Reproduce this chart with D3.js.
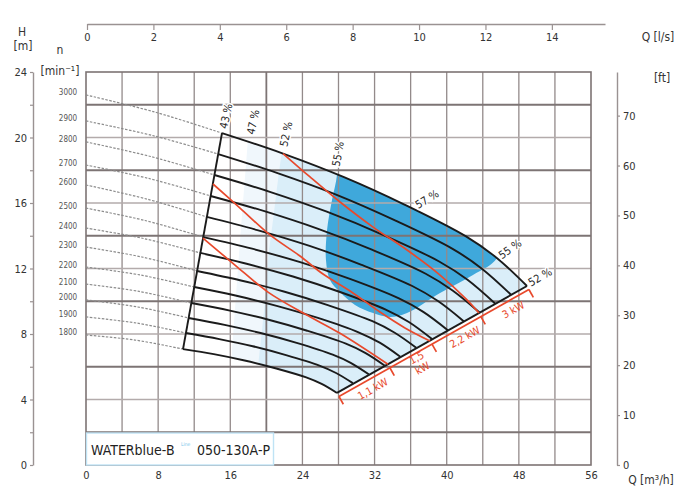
<!DOCTYPE html>
<html>
<head>
<meta charset="utf-8">
<script src="https://cdn.jsdelivr.net/npm/d3@7"></script>
<style>
  body { margin: 0; background: #fff; }
  svg text { font-family: "Liberation Sans Narrow", "DejaVu Sans Condensed", "Liberation Sans", sans-serif; fill: #333; }
</style>
</head>
<body>
<svg id="chart" width="683" height="488"></svg>
<script>
// speed curves [Q m3/h, H m]. points 0-2 are the dashed part
const speeds = [3000, 2900, 2800, 2700, 2600, 2500, 2400, 2300, 2200, 2100, 2000, 1900, 1800];
const n3000 = [[0,22.60],[7.6,21.56],[15.08,20.27],[21.85,19.02],[28.61,17.58],[35.37,15.89],[42.14,13.96],[45.52,12.66],[48.90,10.93]];
const n2900 = [[0,21.01],[7.39,20.12],[14.66,18.99],[21.16,17.84],[27.66,16.53],[34.15,14.97],[40.65,13.20],[43.90,11.99],[47.15,10.39]];
const n2800 = [[0,19.73],[7.17,18.84],[14.24,17.71],[20.47,16.67],[26.70,15.47],[32.92,14.06],[39.16,12.43],[42.27,11.33],[45.39,9.85]];
const n2700 = [[0,18.32],[6.96,17.50],[13.82,16.43],[19.78,15.50],[25.75,14.42],[31.70,13.15],[37.67,11.68],[40.65,10.66],[43.64,9.31]];
const n2600 = [[0,17.10],[6.75,16.24],[13.40,15.15],[19.10,14.33],[24.79,13.38],[30.48,12.24],[36.18,10.93],[39.03,10.01],[41.88,8.78]];
const n2500 = [[0,15.69],[6.55,14.93],[13.00,13.92],[18.42,13.21],[23.84,12.37],[29.27,11.36],[34.70,10.17],[37.40,9.35],[40.12,8.23]];
const n2400 = [[0,14.47],[6.40,13.83],[12.67,12.95],[17.81,12.29],[22.95,11.51],[28.09,10.58],[33.23,9.49],[35.80,8.73],[38.37,7.69]];
const n2300 = [[0,13.31],[6.22,12.70],[12.32,11.85],[17.18,11.27],[22.03,10.58],[26.90,9.75],[31.76,8.78],[34.19,8.09],[36.62,7.16]];
const n2200 = [[0,12.09],[6.05,11.60],[12.00,10.87],[16.57,10.35],[21.14,9.72],[25.72,8.98],[30.28,8.09],[32.57,7.47],[34.85,6.61]];
const n2100 = [[0,11.05],[5.90,10.60],[11.68,9.89],[15.96,9.43],[20.25,8.87],[24.53,8.20],[28.82,7.41],[30.96,6.85],[33.10,6.08]];
const n2000 = [[0,10.08],[5.74,9.65],[11.38,8.98],[15.37,8.56],[19.36,8.06],[23.36,7.46],[27.36,6.74],[29.35,6.24],[31.35,5.54]];
const n1900 = [[0,9.04],[5.60,8.67],[11.08,8.06],[14.78,7.69],[18.49,7.25],[22.18,6.71],[25.88,6.07],[27.73,5.62],[29.59,5.00]];
const n1800 = [[0,7.94],[5.43,7.63],[10.76,7.08],[14.17,6.77],[17.59,6.38],[21.00,5.91],[24.42,5.35],[26.13,4.95],[27.83,4.40]];
const speedCurves = [n3000, n2900, n2800, n2700, n2600, n2500, n2400, n2300, n2200, n2100, n2000, n1900, n1800];

// efficiency labels
const effLabels = ['43 %', '47 %', '52 %', '55 %', '57 %', '55 %', '52 %'];
const effQ = [15.52, 18.52, 22.18, 27.94, 37.81, 47.02, 50.34];
const effH = [21.31, 20.95, 20.21, 18.99, 16.24, 13.19, 11.48];

// shaded efficiency zones, clipped later to the working field
const zone47 = [[18.19,21.5],[17.08,13.74],[16.19,7.02],[15.97,3],[56,3],[56,23],[18.19,23]];
const zone52 = [[21.85,19.6],[21.29,17.40],[20.74,14.96],[20.18,12.52],[19.96,10.69],[19.52,8.24],[19.07,5.80],[19.0,3],[56,3],[56,23],[21.85,23]];
const zone55 = [[27.83,19.5],[27.83,17.71],[27.28,16.18],[26.73,14.35],[26.61,12.52],[27.06,11.30],[28.17,10.56],[29.83,9.77],[31.83,9.28],[33.71,9.04],[35.60,9.28],[39.26,10.50],[42.91,11.60],[45.58,12.64],[47,16],[30,20]];

// motor power lines
const p11 = [[12.97,13.86],[16.52,12.21],[20.18,10.56],[24.28,9.22],[28.17,8.04],[33.48,6.15]];
const p15 = [[14.08,17.16],[17.08,15.69],[20.40,14.05],[23.73,12.76],[26.28,11.66],[29.28,10.63],[32.60,9.34],[35.37,8.37],[38.15,7.57]];
const p22 = [[21.85,19.02],[24.84,17.59],[28.17,16.06],[31.83,14.53],[35.60,13.13],[39.26,11.60],[42.25,10.08],[43.57,9.28]];
const powerLabels = ['1,1 kW', '1,5 kW', '2,2 kW', '3 kW'];
const powerTickQ = [27.83, 33.48, 38.15, 43.57, 48.90];

const qTicks = [0, 8, 16, 24, 32, 40, 48, 56];
const qlsTicks = [0, 2, 4, 6, 8, 10, 12, 14];
const hTicks = [0, 2, 4, 6, 8, 10, 12, 14, 16, 18, 20, 22, 24];
const ftTicks = [0, 10, 20, 30, 40, 50, 60, 70];

let pumpChart = function(){

    let svg = d3.select('#chart');

    let x = d3.scaleLinear().domain([0, 56]).range([86, 591]);
    let y = d3.scaleLinear().domain([0, 24]).range([465, 72]);
    let xTop = d3.scaleLinear().domain([0, 15.6]).range([87, 605]);
    let yFt = d3.scaleLinear().domain([0, 24 / 0.3048]).range([465, 72]);

    let line = d3.line()
        .x(d => x(d[0]))
        .y(d => y(d[1]))
        .curve(d3.curveCatmullRom);
    let poly = d3.line().x(d => x(d[0])).y(d => y(d[1]));

    this.draw = function(){
        this.drawZones();
        this.drawGrid();
        this.drawCurves();
        this.drawPower();
        this.drawEffLabels();
        this.drawAxes();
        this.drawLegend();
    }

    this.drawZones = function(){
        let top = n3000.slice(2), bottom = n1800.slice(2).reverse();
        let field = line(top) + line(bottom).replace(/^M/, 'L') + 'Z';
        svg.append('clipPath').attr('id', 'field')
            .append('path').attr('d', field);
        let zg = svg.append('g').attr('clip-path', 'url(#field)');
        zg.append('path').attr('d', field).attr('fill', '#fff');
        zg.append('path').attr('d', poly(zone47) + 'Z').attr('fill', '#f0f7fc');
        zg.append('path').attr('d', line(zone52) + 'Z').attr('fill', '#daeef9');
        zg.append('path').attr('d', line(zone55) + 'Z').attr('fill', '#3fa8db');
    }

    this.drawGrid = function(){
        let g = svg.append('g');
        let qs = d3.range(4, 56, 4), hs = d3.range(2, 24, 2);
        g.selectAll('.vgrid').data(qs).join('line')
            .classed('vgrid', true)
            .attr('x1', d => x(d)).attr('x2', d => x(d))
            .attr('y1', y(24)).attr('y2', y(0))
            .attr('stroke', d => d === 20 ? '#7d7474' : '#938a8a')
            .attr('stroke-width', d => d === 20 ? 1.8 : 1.3);
        g.selectAll('.hgrid').data(hs).join('line')
            .classed('hgrid', true)
            .attr('x1', x(0)).attr('x2', x(56))
            .attr('y1', d => y(d)).attr('y2', d => y(d))
            .attr('stroke', d => d % 4 === 2 ? '#7d7474' : '#b3abab')
            .attr('stroke-width', d => d % 4 === 2 ? 1.8 : 1.6);
        g.append('rect')
            .attr('x', x(0)).attr('y', y(24))
            .attr('width', x(56) - x(0)).attr('height', y(0) - y(24))
            .attr('fill', 'none').attr('stroke', '#7d7474').attr('stroke-width', 1.6);
    }

    this.drawCurves = function(){
        let g = svg.append('g');
        speedCurves.forEach((c, i) => {
            g.append('path').attr('d', line(c.slice(0, 3)))
                .attr('fill', 'none').attr('stroke', '#8c8c8c')
                .attr('stroke-width', 1.2).attr('stroke-dasharray', '2.5,1.5');
            g.append('path').attr('d', line(c.slice(2)))
                .attr('fill', 'none').attr('stroke', '#1b1b1b').attr('stroke-width', 1.9);
        });
        // left (43 %) and right limits of the working field
        g.append('path').attr('d', poly([n3000[2], n1800[2]]))
            .attr('stroke', '#1b1b1b').attr('stroke-width', 1.9);
        g.append('path').attr('d', poly([n1800[8], n3000[8]]))
            .attr('stroke', '#1b1b1b').attr('stroke-width', 1.9);

        svg.selectAll('.speedLabel').data(speeds).join('text')
            .classed('speedLabel', true)
            .attr('x', 68)
            .attr('y', (d, i) => y(speedCurves[i][0][1]) + 0.5)
            .attr('text-anchor', 'middle')
            .style('font-size', '8px')
            .style('fill', '#555')
            .text(d => d);
    }

    this.drawPower = function(){
        let g = svg.append('g');
        [p11, p15, p22].forEach(p => {
            g.append('path').attr('d', line(p))
                .attr('fill', 'none').attr('stroke', '#e8492c').attr('stroke-width', 1.7);
        });

        let A = n1800[8], B = n3000[8];
        let ax = x(A[0]), ay = y(A[1]), bx = x(B[0]), by = y(B[1]);
        let len = Math.hypot(bx - ax, by - ay);
        let dx = (bx - ax) / len, dy = (by - ay) / len;
        let px = -dy, py = dx;   // points down-right
        let angle = Math.atan2(dy, dx) * 180 / Math.PI;

        g.append('line')
            .attr('x1', ax + 4 * px).attr('y1', ay + 4 * py)
            .attr('x2', bx + 4 * px).attr('y2', by + 4 * py)
            .attr('stroke', '#e8492c').attr('stroke-width', 1.7);

        let pts = powerTickQ.map(q => {
            let t = (q - A[0]) / (B[0] - A[0]);
            return [ax + t * (bx - ax), ay + t * (by - ay)];
        });
        g.selectAll('.pTick').data(pts).join('line')
            .classed('pTick', true)
            .attr('x1', d => d[0] + 4 * px).attr('y1', d => d[1] + 4 * py)
            .attr('x2', d => d[0] + 13 * px).attr('y2', d => d[1] + 13 * py)
            .attr('stroke', '#e8492c').attr('stroke-width', 1.7);

        powerLabels.forEach((lab, i) => {
            let mx = (pts[i][0] + pts[i + 1][0]) / 2 + 14 * px + 4 * dx;
            let my = (pts[i][1] + pts[i + 1][1]) / 2 + 14 * py + 4 * dy;
            let gap = Math.hypot(pts[i + 1][0] - pts[i][0], pts[i + 1][1] - pts[i][1]);
            let t = g.append('text')
                .attr('transform', `translate(${mx},${my}) rotate(${angle})`)
                .attr('text-anchor', 'middle')
                .style('font-size', '10.5px')
                .style('fill', '#e8492c');
            if (gap < 50) {
                let words = lab.split(' ');
                t.append('tspan').attr('x', 0).attr('y', -2).text(words[0]);
                t.append('tspan').attr('x', 0).attr('y', 10).text(words[1]);
            } else {
                t.attr('dy', '0.35em').text(lab);
            }
        });
    }

    this.drawEffLabels = function(){
        let rot = [-78, -78, -78, -80, -32, -35, -30];
        svg.selectAll('.effLabel').data(effLabels).join('text')
            .classed('effLabel', true)
            .attr('transform', (d, i) => `translate(${x(effQ[i])},${y(effH[i])}) rotate(${rot[i]})`)
            .attr('text-anchor', 'middle')
            .attr('dy', '0.35em')
            .style('font-size', '11px')
            .style('fill', '#2a2a2a')
            .style('stroke', '#fff').style('stroke-width', 3)
            .style('paint-order', 'stroke')
            .text(d => d);
    }

    this.drawAxes = function(){
        let ax = svg.append('g').attr('class', 'axes');

        ax.append('g').attr('transform', 'translate(33,0)')
            .call(d3.axisLeft(y).tickValues(hTicks).tickSize(3).tickSizeOuter(0)
                .tickFormat(d => d % 4 === 0 ? d : ''));
        ax.append('g').attr('transform', 'translate(0,24)')
            .call(d3.axisBottom(xTop).tickValues(qlsTicks).tickSize(6).tickSizeOuter(0));
        ax.append('g').attr('transform', 'translate(617,0)')
            .call(d3.axisRight(yFt).tickValues(ftTicks).tickSize(3).tickSizeOuter(0));
        let bottom = ax.append('g').attr('transform', `translate(0,${y(0)})`)
            .call(d3.axisBottom(x).tickValues(qTicks).tickSize(0).tickPadding(6));
        bottom.select('.domain').remove();

        ax.selectAll('.domain').attr('stroke', '#9a9292').attr('stroke-width', 1.4);
        ax.selectAll('.tick line').attr('stroke', '#9a9292').attr('stroke-width', 1.2);
        ax.selectAll('.tick text').style('font-size', '11px').style('fill', '#333')
            .style('font-family', '"Liberation Sans Narrow", "DejaVu Sans Condensed", sans-serif');

        let titles = [
            {t: 'H', x: 22, y: 36}, {t: '[m]', x: 23, y: 50},
            {t: 'n', x: 60, y: 54}, {t: '[min⁻¹]', x: 60, y: 75},
            {t: 'Q [l/s]', x: 658, y: 41}, {t: '[ft]', x: 662, y: 82},
            {t: 'Q [m³/h]', x: 651, y: 484}
        ];
        svg.selectAll('.axisTitle').data(titles).join('text')
            .classed('axisTitle', true)
            .attr('x', d => d.x).attr('y', d => d.y)
            .attr('text-anchor', 'middle')
            .style('font-size', '12px')
            .style('fill', '#333')
            .text(d => d.t);
    }

    this.drawLegend = function(){
        let g = svg.append('g');
        g.append('rect')
            .attr('x', x(0) + 0.5).attr('y', 433)
            .attr('width', 187).attr('height', y(0) - 433)
            .attr('fill', '#fff').attr('stroke', '#bfe3f5').attr('stroke-width', 1.4);
        g.append('text').attr('x', 91).attr('y', 455)
            .style('font-size', '14px').style('fill', '#222')
            .text('WATERblue-B');
        g.append('text').attr('x', 181).attr('y', 446)
            .style('font-size', '5px').style('fill', '#7cc6ea')
            .text('Line');
        g.append('text').attr('x', 197).attr('y', 455)
            .style('font-size', '14px').style('fill', '#222')
            .text('050-130A-P');
    }
}

new pumpChart().draw();
</script>
</body>
</html>
